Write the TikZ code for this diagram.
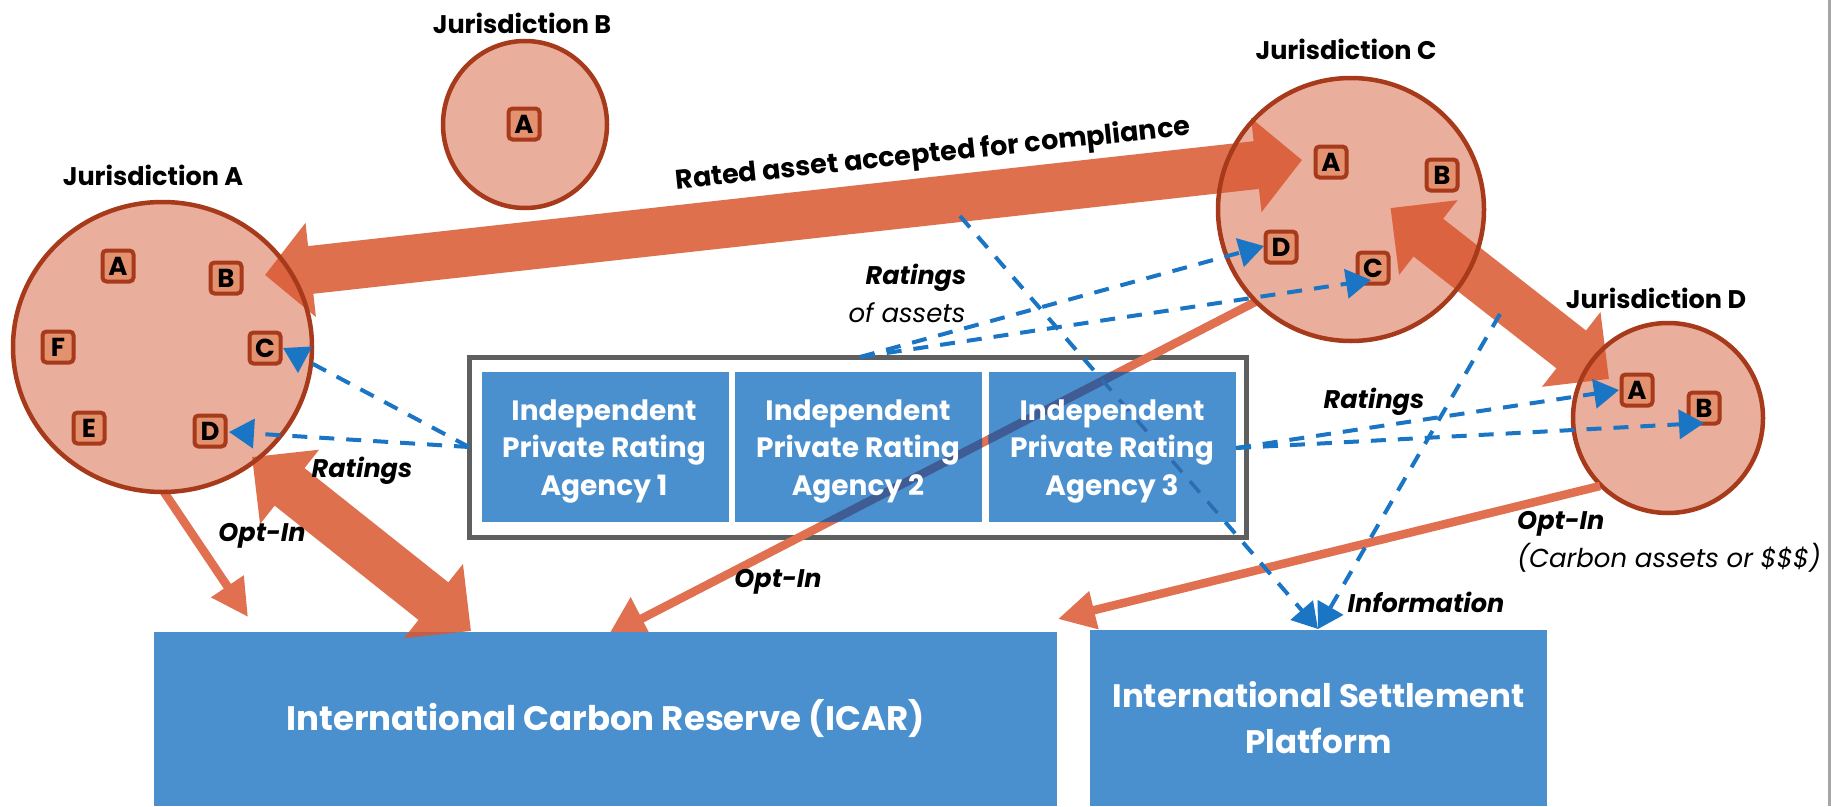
\documentclass[tikz,border=0pt]{standalone}
\usepackage{fontspec}
\setmainfont{Poppins}
\usetikzlibrary{arrows.meta,calc,shapes.geometric}
\definecolor{arrowor}{HTML}{DA5730}
\definecolor{lineor}{HTML}{E0704F}
\definecolor{circfill}{HTML}{E9AE9C}
\definecolor{circline}{HTML}{A63A1B}
\definecolor{boxblue}{HTML}{4A90CF}
\definecolor{dashblue}{HTML}{1B75C5}
\definecolor{framegray}{HTML}{5F5F5F}
\definecolor{tokfill}{HTML}{E3916F}
\definecolor{slateline}{HTML}{3F5D94}
\definecolor{darkdash}{HTML}{2E6CB2}
\tikzset{
  x=1pt,y=-1pt,
  juris/.style={fill=circfill,ellipse,inner sep=0pt},
  token/.style={draw=circline,line width=4pt,fill=tokfill,rounded corners=4pt,minimum width=31pt,minimum height=31pt,inner sep=0pt,font=\fontsize{26}{26}\selectfont\bfseries,text=black},
  title/.style={font=\fontsize{25.5}{26}\selectfont\bfseries,text=black,inner sep=0pt},
  lab/.style={font=\fontsize{25.5}{26}\selectfont\bfseries\itshape,text=black,inner sep=0pt},
  note/.style={font=\fontsize{26}{26}\selectfont\itshape,text=black,inner sep=0pt},
  agency/.style={fill=boxblue,minimum width=247pt,minimum height=150pt,inner sep=0pt},
  agtext/.style={text=white,inner sep=0pt,align=center,font=\fontsize{28}{37.5}\selectfont\bfseries},
  bluebox/.style={fill=boxblue,text=white,inner sep=0pt,align=center,font=\fontsize{32.5}{46}\selectfont\bfseries},
  dashar/.style={draw=dashblue,line width=4pt,dash pattern=on 15pt off 12pt,-{Triangle[length=25pt,width=29pt]}},
  thinar/.style={draw=lineor,line width=8.5pt,-{Triangle[length=37pt,width=37pt]}},
  fatar/.style={draw=arrowor,line width=48pt,{Triangle[length=48pt,width=92pt]}-{Triangle[length=48pt,width=92pt]}},
  rim/.style={draw=circline,line width=4.5pt},
}
\begin{document}
\begin{tikzpicture}
\useasboundingbox (0,0) rectangle (1831,806);
\fill[white] (0,0) rectangle (1831,806);
\fill[gray!70] (1828,0) rectangle (1831,806);
% free ends
\coordinate (bigL) at (265,275);
\coordinate (bigR) at (1302,160);
\coordinate (fa1) at (252,457);
\coordinate (fa2) at (471,631);
\coordinate (fc1) at (1390.5,208);
\coordinate (fc2) at (1609,379);
\coordinate (oa1) at (164,492);
\coordinate (oa2) at (248,617);
\coordinate (oc1) at (1257,301);
\coordinate (oc2) at (608,636);
\coordinate (od1) at (1600,486);
\coordinate (od2) at (1058,619);
\coordinate (rl) at (469,447);
\coordinate (rlC) at (283,348);
\coordinate (rlD) at (229,432);
\coordinate (rt) at (860,357);
\coordinate (rtD) at (1264,246);
\coordinate (rtC) at (1371,280);
\coordinate (rr) at (1236,448);
\coordinate (rrA) at (1619,390);
\coordinate (rrB) at (1704,423);
\coordinate (i1) at (960,216);
\coordinate (i2) at (1500,314);
\coordinate (iT) at (1318,629);
% Jurisdictions
\node[juris,minimum width=299pt,minimum height=290pt] (JA) at (162.5,347) {};
\node[juris,minimum width=164pt,minimum height=167pt] (JB) at (525,124.5) {};
\node[juris,minimum width=266pt,minimum height=263pt] (JC) at (1351,209.5) {};
\node[juris,minimum width=190pt,minimum height=190pt] (JD) at (1668,418) {};
\node[title] (tA) at (153,175) {Jurisdiction A};
\node[title] (tB) at (522,23) {Jurisdiction B};
\node[title] (tC) at (1346,49) {Jurisdiction C};
\node[title] (tD) at (1656,298) {Jurisdiction D};
% tokens
\node[token] (aA) at (118,266) {A};
\node[token] (aB) at (226,278) {B};
\node[token] (aC) at (265,348) {C};
\node[token] (aD) at (210,431) {D};
\node[token] (aE) at (89,428) {E};
\node[token] (aF) at (58,347) {F};
\node[token] (bA) at (524,124) {A};
\node[token] (cA) at (1331,162) {A};
\node[token] (cB) at (1442,175) {B};
\node[token] (cD) at (1281,247) {D};
\node[token] (cC) at (1373,268) {C};
\node[token] (dA) at (1637,390) {A};
\node[token] (dB) at (1704,408) {B};
% frame and agencies
\node[draw=framegray,line width=5pt,fill=white,minimum width=777.5pt,minimum height=180pt,inner sep=0pt] (frame) at (858,447.5) {};
\draw[thinar,-{Triangle[length=38pt,width=46pt]}] (oc1) -- (oc2);
\draw[thinar] (oa1) -- (oa2);
\node[agency] (ag1) at (605.5,447) {};
\node[agency] (ag2) at (858.5,447) {};
\node[agency] (ag3) at (1112,447) {};
% connectors seen through the agency boxes
\begin{scope}
\clip (ag2.north west) rectangle (ag2.south east) (ag3.north west) rectangle (ag3.south east);
\draw[slateline,line width=8.5pt] (oc1) -- (oc2);
\draw[darkdash,line width=3.5pt,dash pattern=on 15pt off 12pt] (i1) -- (iT);
\end{scope}
\node[agtext] (tx1) at (604,451) {Independent\\Private Rating\\Agency 1};
\node[agtext] (tx2) at (858,451) {Independent\\Private Rating\\Agency 2};
\node[agtext] (tx3) at (1112,451) {Independent\\Private Rating\\Agency 3};
\node[bluebox,minimum width=903pt,minimum height=174pt,font=\fontsize{34}{46}\selectfont\bfseries] (icar) at (605.5,719) {\raisebox{-2pt}{International Carbon Reserve (ICAR)}};
\node[bluebox,minimum width=457pt,minimum height=176pt] (isp) at (1318.5,718) {International Settlement\\Platform};
% broad arrows
\begin{scope}[transparency group,opacity=.85]
\draw[fatar] (fa1) -- (fa2);
\draw[fatar] (fc1) -- (fc2);
\draw[draw=arrowor,line width=48pt,{Triangle[length=46pt,width=92pt]}-{Triangle[length=46pt,width=92pt]}] (bigL) -- (bigR);
\end{scope}
\draw[rim] (JA.center) ellipse [x radius=149.5,y radius=145];
\draw[rim] (JB.center) ellipse [x radius=82,y radius=83.5];
\draw[rim] (JC.center) ellipse [x radius=133,y radius=131.5];
\draw[rim] (JD.center) ellipse [x radius=95,y radius=95];
\draw[thinar] (od1) -- (od2);
% dashed
\draw[dashar] (rl) -- (rlC);
\draw[dashar] (rl) -- (rlD);
\draw[dashar] (rt) -- (rtD);
\draw[dashar] (rt) -- (rtC);
\draw[dashar] (rr) -- (rrA);
\draw[dashar] (rr) -- (rrB);
\begin{scope}
\clip (0,0) rectangle (1831,372) (0,522) rectangle (1831,806);
\draw[dashar] (i1) -- (iT);
\end{scope}
\draw[dashar] (i2) -- (iT);
% labels
\node[title,rotate=6,font=\fontsize{27}{27}\selectfont\bfseries] (lbig) at (933,155) {Rated asset accepted for compliance};
\node[lab] (l1) at (916,278) {Ratings};
\node[note] (l2) at (907,313) {of assets};
\node[lab] (l3) at (362,471) {Ratings};
\node[lab] (l4) at (262,536) {Opt-In};
\node[lab] (l5) at (778,582) {Opt-In};
\node[lab] (l6) at (1374,402) {Ratings};
\node[lab,anchor=west] (l7) at (1517,524) {Opt-In};
\node[note,anchor=west] (l8) at (1517,558) {(Carbon assets or \$\$\$)};
\node[lab] (l9) at (1426,602) {Information};
\end{tikzpicture}
\end{document}
